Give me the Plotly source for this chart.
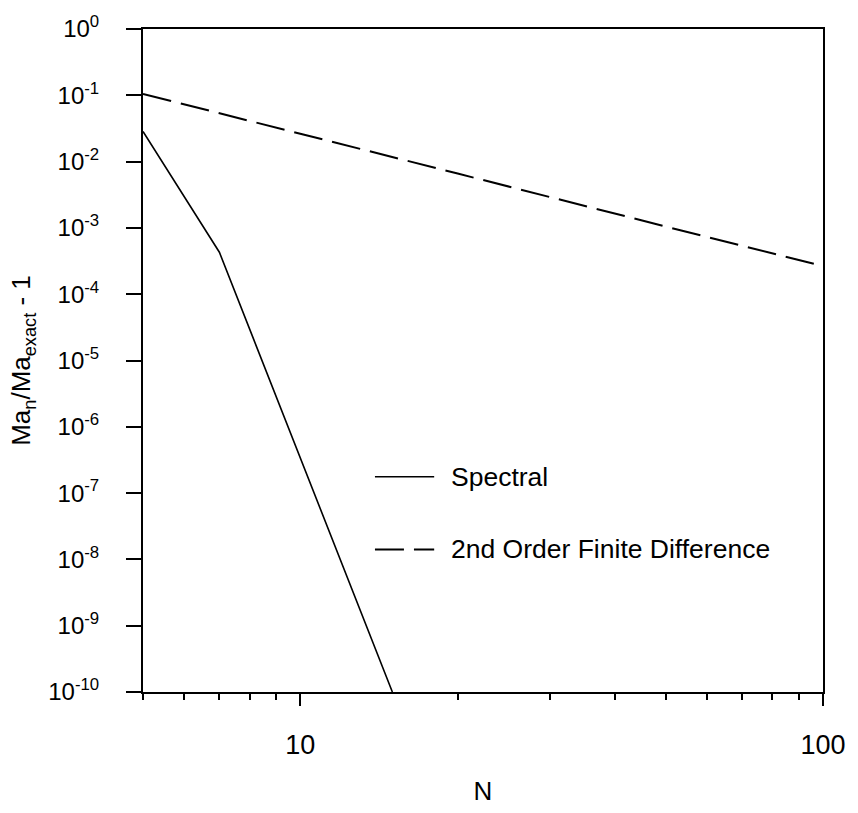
import plotly.graph_objects as go
import math

# ---- data ----
spectral_N = [5, 7, 15]
spectral_err = [0.0284, 4.3e-4, 1.0e-10]

fd_N = [5, 10, 20, 50, 100]
fd_err = [0.105, 0.026, 0.0066, 0.00105, 0.000265]

y_tick_exps = [0, -1, -2, -3, -4, -5, -6, -7, -8, -9, -10]
x_major_ticks = [10, 100]
x_minor_ticks = [5, 6, 7, 8, 9, 20, 30, 40, 50, 60, 70, 80, 90]

series_names = ["Spectral", "2nd Order Finite Difference"]

FONT = "Liberation Sans, Arial, Helvetica, sans-serif"
DASH = "29px,10px"

fig = go.Figure()
fig.add_trace(go.Scatter(x=spectral_N, y=spectral_err, mode="lines",
                         name=series_names[0], showlegend=False,
                         line=dict(color="black", width=1.6)))
fig.add_trace(go.Scatter(x=fd_N, y=fd_err, mode="lines",
                         name=series_names[1], showlegend=False,
                         line=dict(color="black", width=2, dash=DASH)))

# hand-drawn legend (long line samples as in the reference)
leg_x0, leg_x1, leg_tx = 0.3411, 0.4282, 0.4499
leg_y = [0.3247, 0.2150]
leg_dash = ["solid", DASH]
leg_w = [1.6, 2]
for name, yy, dsh, w in zip(series_names, leg_y, leg_dash, leg_w):
    fig.add_shape(type="line", xref="paper", yref="paper",
                  x0=leg_x0, x1=leg_x1, y0=yy, y1=yy,
                  line=dict(color="black", width=w, dash=dsh))
    fig.add_annotation(xref="paper", yref="paper", x=leg_tx, y=yy,
                       xanchor="left", yanchor="middle", showarrow=False,
                       text=name, font=dict(family=FONT, size=26.5, color="black"))

fig.update_layout(
    width=858, height=813,
    margin=dict(l=143, r=26, t=17, b=103),
    paper_bgcolor="white", plot_bgcolor="white",
    font=dict(family=FONT, color="black", size=24),
    xaxis=dict(
        type="log", range=[math.log10(5), 2],
        tickmode="array", tickvals=x_major_ticks,
        ticktext=[str(v) for v in x_major_ticks],
        ticks="outside", ticklen=12, tickwidth=1.5, tickcolor="black",
        ticklabelstandoff=16,
        minor=dict(tickmode="array", tickvals=x_minor_ticks, ticks="outside",
                   ticklen=6, tickwidth=1.5, tickcolor="black", showgrid=False),
        tickfont=dict(family=FONT, size=27, color="black"),
        showline=True, linewidth=2, linecolor="black", mirror=True,
        showgrid=False, zeroline=False,
        title=dict(text="N", font=dict(family=FONT, size=26, color="black"), standoff=22),
    ),
    yaxis=dict(
        type="log", range=[-10, 0],
        tickmode="array", tickvals=[10.0 ** e for e in y_tick_exps],
        ticktext=["10<sup>%d</sup>" % e for e in y_tick_exps],
        ticks="outside", ticklen=15, tickwidth=1.5, tickcolor="black",
        ticklabelstandoff=22,
        tickfont=dict(family=FONT, size=24, color="black"),
        showline=True, linewidth=2, linecolor="black", mirror=True,
        showgrid=False, zeroline=False,
        title=dict(text="Ma<sub>n</sub>/Ma<sub>exact</sub> - 1",
                   font=dict(family=FONT, size=26, color="black"), standoff=10),
    ),
)

fig.write_html("out.html")
